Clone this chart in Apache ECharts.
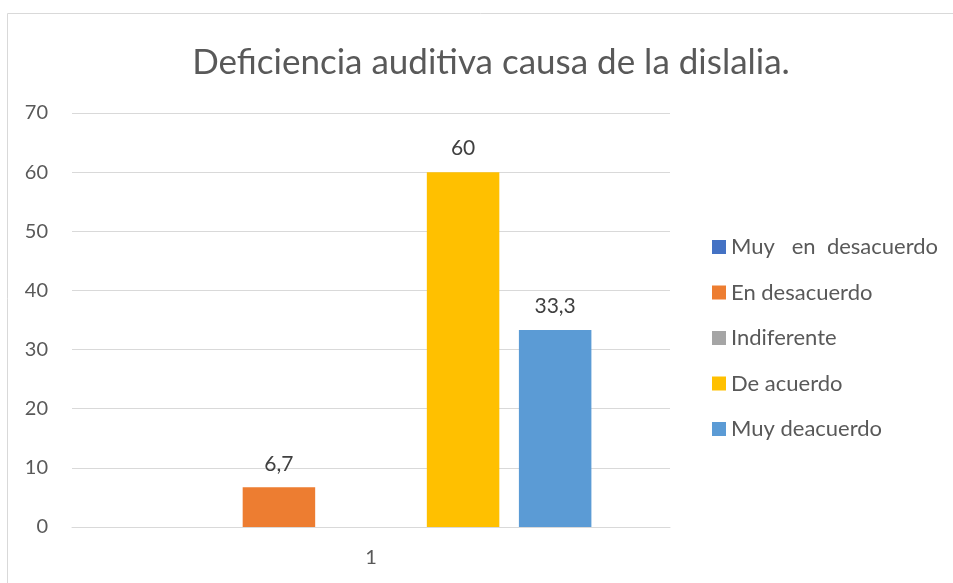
<!DOCTYPE html>
<html>
<head>
<meta charset="utf-8">
<script src="https://cdn.jsdelivr.net/npm/echarts@6/dist/echarts.min.js"></script>
<style>
  html, body { margin: 0; padding: 0; background: #fff; }
  #chart { width: 953px; height: 583px; }
</style>
</head>
<body>
<div id="chart"></div>
<script>
const categories = ["1"];
const seriesNames = ["Muy   en  desacuerdo", "En desacuerdo", "Indiferente", "De acuerdo", "Muy deacuerdo"];
const seriesValues = [0, 6.7, 0, 60, 33.3];
const seriesColors = ["#4472C4", "#ED7D31", "#A5A5A5", "#FFC000", "#5B9BD5"];

const fontFamily = "Lato, 'Open Sans', sans-serif";
const textColor = "#595959";

const myChart = echarts.init(document.getElementById("chart"));

const series = seriesNames.map((name, i) => ({
  name: name,
  type: "bar",
  data: [seriesValues[i]],
  barWidth: 72.5,
  barGap: "27%",
  itemStyle: { color: seriesColors[i] },
  label: {
    show: true,
    position: "top",
    distance: 13,
    color: "#404040",
    fontSize: 21,
    fontFamily: fontFamily,
    formatter: p => p.value === 0 ? "" : String(p.value).replace(".", ",")
  }
}));

const option = {
  animation: false,
  title: {
    text: "Deficiencia auditiva causa de la dislalia.",
    left: 486,
    textAlign: "center",
    top: 40,
    textStyle: {
      color: textColor,
      fontSize: 35,
      fontWeight: "normal",
      fontFamily: fontFamily
    }
  },
  legend: {
    orient: "vertical",
    left: 712,
    top: 236,
    padding: 0,
    itemWidth: 14,
    itemHeight: 14,
    itemGap: 23.5,
    icon: "rect",
    textStyle: {
      color: textColor,
      fontSize: 22,
      lineHeight: 20,
      fontFamily: fontFamily,
      padding: [0, 0, 0, 0]
    },
    data: seriesNames
  },
  grid: {
    left: 72,
    right: 283,
    top: 113,
    bottom: 56,
    containLabel: false
  },
  xAxis: {
    type: "category",
    data: categories,
    axisLine: { show: true, lineStyle: { color: "#d9d9d9", width: 1 } },
    axisTick: { show: false },
    axisLabel: {
      color: textColor,
      fontSize: 20,
      fontFamily: fontFamily,
      margin: 21
    }
  },
  yAxis: {
    type: "value",
    min: 0,
    max: 70,
    interval: 10,
    axisLine: { show: false },
    axisTick: { show: false },
    axisLabel: {
      color: textColor,
      fontSize: 20,
      fontFamily: fontFamily,
      margin: 24
    },
    splitLine: { lineStyle: { color: "#d9d9d9", width: 1 } }
  },
  graphic: [{
    type: "rect",
    shape: { x: 7.5, y: 13.5, width: 960, height: 600 },
    style: { fill: null, stroke: "#d9d9d9", lineWidth: 1 },
    silent: true,
    z: -1
  }],
  series: series
};

myChart.setOption(option);
</script>
</body>
</html>
